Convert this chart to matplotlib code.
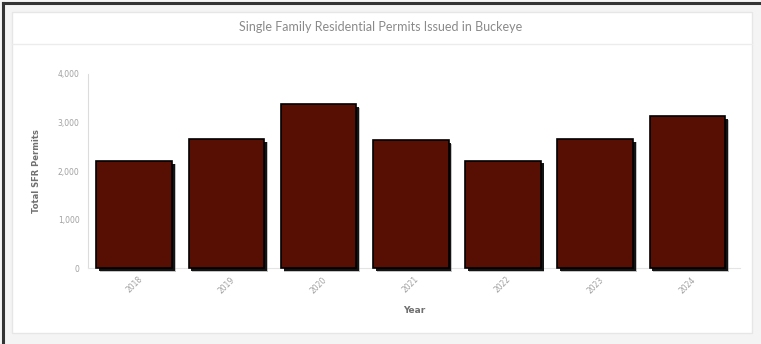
import matplotlib
matplotlib.use("Agg")
import matplotlib.pyplot as plt
import matplotlib.patheffects as pe
from matplotlib.patches import Rectangle
from matplotlib.lines import Line2D

# permits per year
years = ['2018', '2019', '2020', '2021', '2022', '2023', '2024']
permits = [2210, 2665, 3375, 2630, 2215, 2665, 3130]
yticks = [0, 1000, 2000, 3000, 4000]

W, H = 761, 344
fig = plt.figure(figsize=(W / 100, H / 100), dpi=100)
fig.patch.set_facecolor('white')

# outer dark frame and inner light panel
fig.patches.append(Rectangle((0, 0), 1, 1, transform=fig.transFigure,
                             facecolor='#f4f4f4', edgecolor='none', zorder=-3))
fig.add_artist(Line2D([3 / W, 3 / W], [0, 1 - 3 / H], color='#333333', lw=2.2))
fig.add_artist(Line2D([3 / W, 1], [1 - 3 / H, 1 - 3 / H], color='#333333', lw=2.2))
fig.patches.append(Rectangle((12 / W, 1 - 333 / H), 740 / W, 321 / H,
                             transform=fig.transFigure, facecolor='white',
                             edgecolor='#e6e6e6', lw=1, zorder=-2))
fig.add_artist(Line2D([12 / W, 752 / W], [1 - 44 / H, 1 - 44 / H],
                      color='#ececec', lw=1))

fig.text(0.5, 1 - 27 / H, 'Single Family Residential Permits Issued in Buckeye',
         ha='center', va='center', fontsize=9, color='#8a8a8a', family='Lato')

ax = fig.add_axes([88 / W, 1 - 268 / H, (740 - 88) / W, (268 - 74) / H])
ax.set_facecolor('none')

bars = ax.bar(range(len(years)), permits, width=0.82, color='#580f03',
              edgecolor='black', linewidth=1.2, zorder=3, clip_on=False)
for b in bars:
    b.set_path_effects([
        pe.SimplePatchShadow(offset=(2.6, -2.6), shadow_rgbFace='#888888', alpha=0.5),
        pe.SimplePatchShadow(offset=(2, -2), shadow_rgbFace='black', alpha=0.9),
        pe.Normal()])

ax.set_xlim(-0.5, 6.57)
ax.set_ylim(0, 4000)
ax.set_yticks(yticks)
ax.set_yticklabels([f'{v:,}' for v in yticks], fontsize=5.5, color='#a0a0a0')
ax.set_xticks(range(len(years)))
ax.set_xticklabels(years, rotation=45, fontsize=5.5, color='#a0a0a0',
                   ha='center', va='top')
ax.tick_params(axis='both', length=0, pad=6)
ax.tick_params(axis='x', pad=5)

for s in ['top', 'right']:
    ax.spines[s].set_visible(False)
ax.spines['left'].set_color('#dcdcdc')
ax.spines['bottom'].set_color('#e4e4e4')

ax.set_xlabel('Year', fontsize=6.5, fontweight='bold', color='#707070', labelpad=8)
ax.set_ylabel('Total SFR Permits', fontsize=6, fontweight='bold', color='#707070',
              labelpad=12)

fig.savefig('out.png', dpi=100)
